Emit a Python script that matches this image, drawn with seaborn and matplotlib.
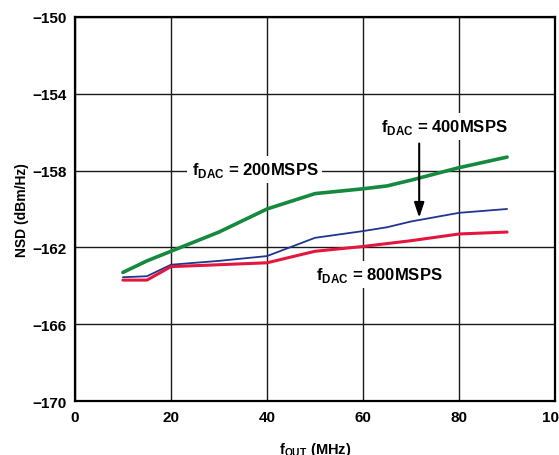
import numpy as np
import pandas as pd
import matplotlib
matplotlib.use('Agg')
import matplotlib.pyplot as plt
import seaborn as sns

# data
f_out = [10, 15, 20, 30, 40, 50, 60, 65, 70, 80, 90]
nsd_200 = [-163.3, -162.7, -162.2, -161.2, -160.0, -159.2, -158.95, -158.8, -158.5, -157.85, -157.3]
nsd_400 = [-163.55, -163.5, -162.9, -162.7, -162.45, -161.5, -161.15, -160.95, -160.65, -160.2, -160.0]
nsd_800 = [-163.7, -163.7, -163.0, -162.9, -162.8, -162.2, -161.95, -161.8, -161.65, -161.3, -161.2]

series = ['200', '400', '800']
colores = {'200': '#158a3e', '400': '#1f3590', '800': '#e3173e'}
anchos = {'200': 2.6, '400': 1.3, '800': 2.2}

df = pd.DataFrame({
    'f_out': f_out * 3,
    'nsd': nsd_200 + nsd_400 + nsd_800,
    'fdac': ['200'] * len(f_out) + ['400'] * len(f_out) + ['800'] * len(f_out),
})

sns.set_style('white')
plt.rcParams['font.family'] = ['Liberation Sans', 'DejaVu Sans']
plt.rcParams['font.weight'] = 'bold'
plt.rcParams['mathtext.fontset'] = 'custom'
plt.rcParams['mathtext.rm'] = 'Liberation Sans:bold'
plt.rcParams['mathtext.bf'] = 'Liberation Sans:bold'
plt.rcParams['text.color'] = 'black'
plt.rcParams['axes.labelcolor'] = 'black'
plt.rcParams['xtick.color'] = 'black'
plt.rcParams['ytick.color'] = 'black'

fig = plt.figure(figsize=(5.59, 4.56), dpi=100)
ax = fig.add_axes([0.134, 0.118, 0.859, 0.843])

for s in series:
    sub = df[df['fdac'] == s]
    sns.lineplot(data=sub, x='f_out', y='nsd', color=colores[s], linewidth=anchos[s],
                 ax=ax, legend=False, zorder=3)

ax.set_xlim(0, 100)
ax.set_ylim(-170, -150)
ax.set_xticks([0, 20, 40, 60, 80, 100])
ax.set_yticks([-170, -166, -162, -158, -154, -150])
ax.set_yticklabels(['\u2212170', '\u2212166', '\u2212162', '\u2212158', '\u2212154', '\u2212150'])
ax.tick_params(length=0, labelsize=11, pad=6)
for lab in ax.get_xticklabels() + ax.get_yticklabels():
    lab.set_fontweight('bold')
ax.grid(True, color='#1a1a1a', linewidth=1.0)
for sp in ax.spines.values():
    sp.set_color('black')
    sp.set_linewidth(1.6)
    sp.set_zorder(5)

ax.set_xlabel(r'f$_\mathregular{OUT}$ (MHz)', fontsize=10.5, fontweight='bold', labelpad=12)
ax.set_ylabel('NSD (dBm/Hz)', fontsize=10, fontweight='bold', labelpad=2)

caja = dict(facecolor='white', edgecolor='none', pad=3)
ax.text(37.5, -157.95, r'f$_\mathregular{DAC}$ = 200MSPS', fontsize=12, fontweight='bold',
        ha='center', va='center', bbox=caja, zorder=4)
ax.text(76.9, -155.7, r'f$_\mathregular{DAC}$ = 400MSPS', fontsize=12, fontweight='bold',
        ha='center', va='center', bbox=caja, zorder=4)
ax.text(63.5, -163.4, r'f$_\mathregular{DAC}$ = 800MSPS', fontsize=12, fontweight='bold',
        ha='center', va='center', bbox=caja, zorder=4)
ax.annotate('', xy=(71.7, -160.6), xytext=(71.7, -156.45),
            arrowprops=dict(arrowstyle='-|>,head_length=0.9,head_width=0.3', color='black', lw=1.5),
            zorder=4)

fig.savefig('out.png', dpi=100)
